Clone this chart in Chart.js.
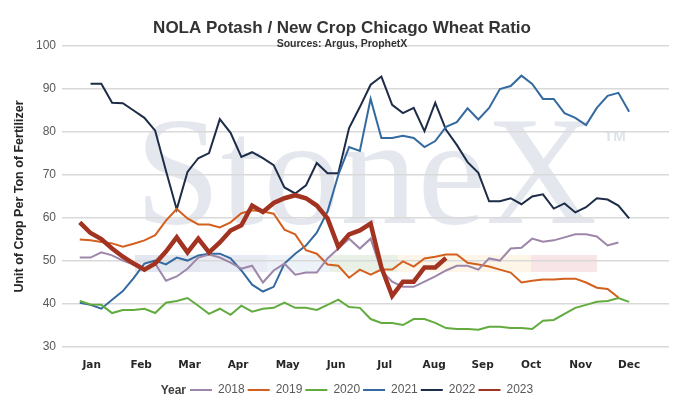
<!DOCTYPE html>
<html>
<head>
<meta charset="utf-8">
<script src="https://cdn.jsdelivr.net/npm/chart.js@4.4.1/dist/chart.umd.min.js"></script>
<style>
  html, body { margin: 0; padding: 0; background: #fff; }
  #wrap { width: 680px; height: 406px; }
</style>
</head>
<body>
<div id="wrap"><canvas id="myChart" width="680" height="406"></canvas></div>
<script>
//week of year (x values)
const weeks = [1,2,3,4,5,6,7,8,9,10,11,12,13,14,15,16,17,18,19,20,21,22,23,24,25,26,
               27,28,29,30,31,32,33,34,35,36,37,38,39,40,41,42,43,44,45,46,47,48,49,50,51,52];

//month labels and the week they sit under
const months = ['Jan','Feb','Mar','Apr','May','Jun','Jul','Aug','Sep','Oct','Nov','Dec'];
const monthWeeks = [2.1, 6.7, 11.2, 15.7, 20.3, 24.8, 29.3, 33.9, 38.4, 42.9, 47.5, 52.0];

//ratio by week, one list per year
const y2018 = [50.8,50.8,52.0,51.3,50.1,49.2,48.2,49.4,45.4,46.4,48.2,50.8,51.5,50.8,49.6,48.2,48.9,45.0,47.8,49.4,
               46.8,47.3,47.3,50.6,52.9,55.2,52.9,55.2,47.8,45.2,44.0,44.0,45.2,46.4,47.8,48.9,48.9,48.0,50.6,50.1,
               52.9,53.1,55.2,54.5,54.8,55.5,56.2,56.2,55.7,53.6,54.3];
const y2019 = [55.0,54.8,54.4,54.1,53.3,54.0,54.8,56.0,59.4,62.1,59.9,58.5,58.5,57.8,59.0,61.1,61.8,61.5,61.0,57.3,
               56.2,52.5,51.7,49.2,48.9,46.1,48.0,46.8,48.0,48.0,49.9,48.7,50.6,51.0,51.5,51.5,49.6,49.2,48.7,48.0,
               47.3,45.0,45.4,45.7,45.7,45.9,45.9,45.0,43.8,43.5,41.5];
const y2020 = [40.7,39.9,39.8,37.9,38.6,38.6,38.9,37.9,40.3,40.7,41.4,39.6,37.7,38.9,37.5,39.6,38.2,38.9,39.1,40.3,
               39.1,39.1,38.6,39.8,41.0,39.3,39.1,36.5,35.6,35.6,35.1,36.5,36.5,35.6,34.4,34.2,34.2,34.0,34.7,34.7,
               34.4,34.4,34.2,36.1,36.3,37.7,39.1,39.8,40.5,40.7,41.4,40.5];
const y2021 = [40.3,39.8,38.9,41.0,43.0,46.0,49.4,50.1,49.2,50.8,50.1,51.3,51.7,51.7,50.6,47.8,44.5,42.9,44.0,49.4,
               51.7,53.6,56.6,61.5,70.0,76.5,75.6,87.7,78.6,78.6,79.1,78.6,76.5,77.9,81.2,82.3,85.5,82.9,85.6,90.0,
               90.7,93.1,91.2,87.7,87.7,84.4,83.3,81.6,85.6,88.4,89.1,84.7];
const y2022 = [null,91.2,91.2,86.8,86.7,85.0,83.3,80.3,71.0,62.0,70.7,73.9,75.1,83.0,79.8,74.2,75.3,73.9,72.3,67.1,
               65.7,67.6,72.8,70.4,70.4,80.9,85.8,91.0,92.9,86.3,84.4,85.6,80.2,86.8,80.5,77.0,73.0,70.5,63.9,63.9,
               64.6,63.2,65.0,65.5,62.2,63.4,61.3,62.5,64.6,64.3,62.9,59.9];
const y2023 = [59.0,56.5,55.1,52.9,51.0,49.4,48.0,49.4,52.2,55.5,52.0,55.2,52.0,54.3,57.1,58.3,62.9,61.4,63.5,64.6,
               65.3,64.6,62.9,59.9,53.3,56.2,57.1,58.7,48.5,41.9,45.2,45.2,48.5,48.5,50.7];

const years = ['2018','2019','2020','2021','2022','2023'];
const series = [y2018, y2019, y2020, y2021, y2022, y2023];
const colors = ['#9d86aa','#d4601f','#62ab3f','#346a9f','#1d2c47','#a23320'];

//turn a weekly list into x/y points
function toPoints(vals){
    const pts = [];
    vals.forEach((v, i) => {
        if (v !== null) pts.push({x: weeks[i], y: v});
    });
    return pts;
}

const datasets = years.map((yr, i) => ({
    label: yr,
    data: toPoints(series[i]),
    borderColor: colors[i],
    backgroundColor: colors[i],
    borderWidth: yr === '2023' ? 4.5 : 2,
    pointRadius: 0,
    tension: 0,
    fill: false,
    order: yr === '2023' ? 0 : 1
}));

//logo, titles and the "Year" word
const decor = {
    id: 'decor',
    beforeDraw(chart){
        const ctx = chart.ctx;
        ctx.save();
        ctx.fillStyle = '#fff';
        ctx.fillRect(0, 0, chart.width, chart.height);
        const stripe = [[135,200,'#e3e7ef'],[200,267,'#e8ebf3'],[267,330,'#edf2f8'],[330,398,'#e9f1e7'],
                        [398,531,'#fdf6e8'],[531,597,'#f8e5e8']];
        stripe.forEach(s => {
            ctx.fillStyle = s[2];
            ctx.fillRect(s[0], 255, s[1] - s[0], 17);
        });
        ctx.fillStyle = '#e4e8ee';
        ctx.font = '154px "Liberation Serif"';
        ctx.textBaseline = 'alphabetic';
        ctx.fillText('StoneX', 135, 223);
        ctx.fillStyle = '#dfe3ea';
        ctx.font = 'bold 15px "Liberation Sans"';
        ctx.fillText('TM', 604, 141);
        ctx.restore();
    },
    afterLayout(chart){
        if (chart.legend) chart.legend.left = 187;
    },
    afterDraw(chart){
        const ctx = chart.ctx;
        ctx.save();
        ctx.textAlign = 'center';
        ctx.textBaseline = 'middle';
        ctx.fillStyle = '#333';
        ctx.font = 'bold 17px "Liberation Sans"';
        ctx.fillText('NOLA Potash / New Crop Chicago Wheat Ratio', 342, 28);
        ctx.font = 'bold 10.5px "Liberation Sans"';
        ctx.fillText('Sources: Argus, ProphetX', 342, 44.5);
        ctx.textAlign = 'right';
        ctx.fillStyle = '#404040';
        ctx.font = 'bold 12px "Liberation Sans"';
        const lg = chart.legend;
        const yy = lg && lg.legendHitBoxes.length ? lg.top + 3 + 7 : 389;
        ctx.fillText('Year', 186, yy);
        ctx.restore();
    }
};

const ctx = document.getElementById('myChart').getContext('2d');
const chart = new Chart(ctx, {
    type: 'line',
    data: { datasets: datasets },
    options: {
        responsive: false,
        animation: false,
        events: [],
        layout: { padding: { top: 46, right: 11, bottom: 0, left: 0 } },
        plugins: {
            tooltip: { enabled: false },
            legend: {
                position: 'bottom',
                align: 'start',
                labels: {
                    boxWidth: 22,
                    boxHeight: 2,
                    padding: 3,
                    color: '#595959',
                    font: { family: 'Liberation Sans', size: 12 },
                    generateLabels: c => c.data.datasets.map((d, i) => ({
                        text: d.label,
                        fillStyle: d.borderColor,
                        strokeStyle: d.borderColor,
                        lineWidth: 0,
                        hidden: false,
                        datasetIndex: i,
                        fontColor: '#595959'
                    }))
                }
            }
        },
        scales: {
            x: {
                type: 'linear',
                min: -0.65,
                max: 55.7,
                grid: { display: false },
                border: { display: false },
                afterBuildTicks: s => { s.ticks = monthWeeks.map(v => ({ value: v })); },
                ticks: {
                    autoSkip: false,
                    maxRotation: 0,
                    padding: 4,
                    color: '#262626',
                    font: { family: 'DejaVu Sans', size: 10.5, weight: 'bold' },
                    callback: (v, i) => months[i]
                },
                afterFit: s => { s.height = 34; }
            },
            y: {
                min: 30,
                max: 100,
                ticks: {
                    stepSize: 10,
                    padding: 6,
                    color: '#595959',
                    font: { family: 'Liberation Sans', size: 12 }
                },
                grid: { color: '#d9d9d9', lineWidth: 1.5, drawTicks: false },
                border: { display: false },
                title: {
                    display: true,
                    text: 'Unit of Crop Per Ton of Fertilizer',
                    color: '#262626',
                    font: { family: 'Liberation Sans', size: 12.5, weight: 'bold' },
                    padding: { top: 12, bottom: 0 }
                },
                afterFit: s => { s.width = 62; }
            }
        }
    },
    plugins: [decor]
});
</script>
</body>
</html>
